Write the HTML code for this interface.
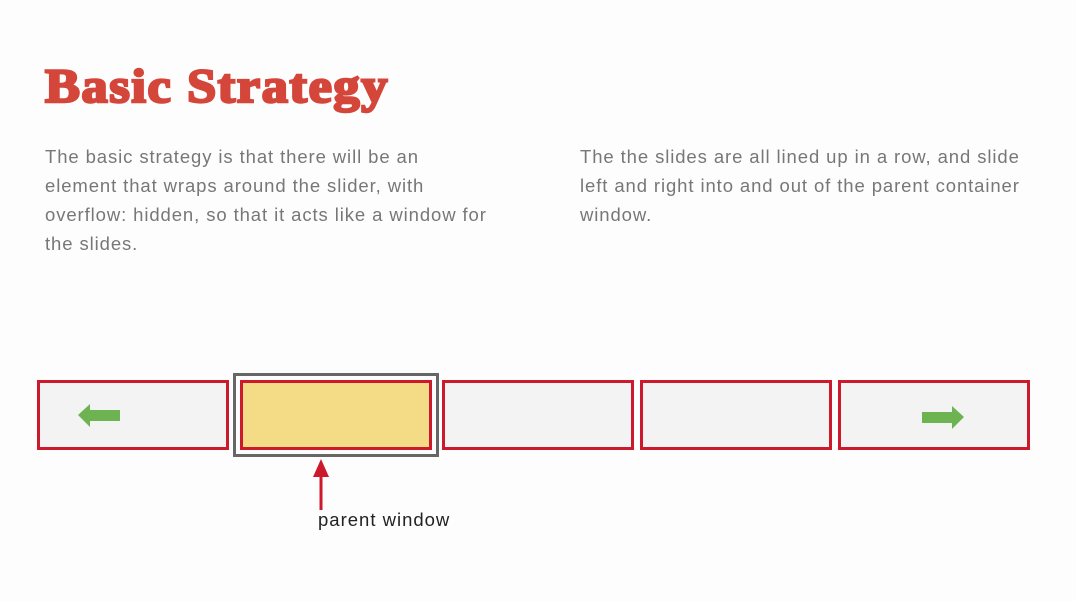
<!DOCTYPE html>
<html><head><meta charset="utf-8"><style>
body{margin:0;width:1076px;height:601px;background:#fdfdfd;position:relative;overflow:hidden;font-family:"Liberation Sans",sans-serif}
.t{position:absolute;left:45px;top:59px;font-family:"Liberation Serif",serif;font-weight:bold;font-size:48px;color:#d5463a;-webkit-text-stroke:2.5px #d5463a;white-space:nowrap;letter-spacing:1.5px;transform:scaleX(1.09);transform-origin:left}
.p{position:absolute;font-size:18.5px;line-height:29px;color:#777;letter-spacing:0.9px;white-space:nowrap}
.b{position:absolute;top:380px;width:186px;height:64px;border:3px solid #cc1a2c;background:#f3f3f3}
</style></head><body>
<div class="t">Basic Strategy</div>
<div class="p" style="left:45px;top:142px">The basic strategy is that there will be an<br>element that wraps around the slider, with<br>overflow: hidden, so that it acts like a window for<br>the slides.</div>
<div class="p" style="left:580px;top:142px">The the slides are all lined up in a row, and slide<br>left and right into and out of the parent container<br>window.</div>
<div style="position:absolute;left:233px;top:373px;width:200px;height:78px;border:3px solid #666"></div>
<div class="b" style="left:37px"></div>
<div class="b" style="left:240px;background:#f3dc85"></div>
<div class="b" style="left:442px"></div>
<div class="b" style="left:640px"></div>
<div class="b" style="left:838px"></div>
<svg width="1076" height="601" style="position:absolute;left:0;top:0">
<polygon points="78,415 90,404 90,410 120,410 120,421 90,421 90,427" fill="#6db352"/>
<polygon points="964,417 952,406 952,412 922,412 922,423 952,423 952,429" fill="#6db352"/>
<g><polygon points="321,459 313,477 329,477" fill="#cc1a2c"/><rect x="319.5" y="475" width="3" height="35" fill="#cc1a2c"/></g>
</svg>
<div style="position:absolute;left:318px;top:509px;font-size:18.5px;letter-spacing:1px;color:#222;white-space:nowrap">parent window</div>
</body></html>
